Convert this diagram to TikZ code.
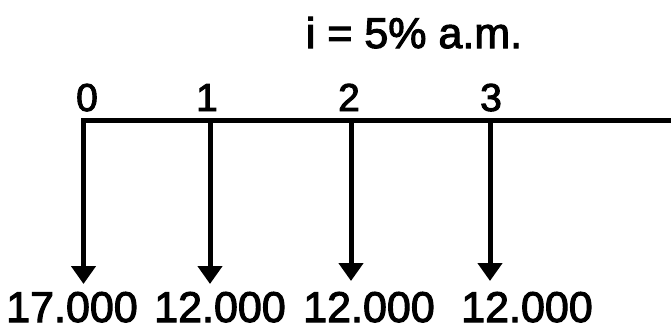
\documentclass[tikz,border=0pt]{standalone}
\usepackage{fontspec}
\setmainfont{Liberation Sans}[FakeBold=2.5]
\usetikzlibrary{arrows.meta}
\begin{document}
\begin{tikzpicture}[x=.5pt,y=-.5pt,>={Triangle[width=12pt,length=9pt]},
  font=\fontsize{19.5}{22}\selectfont,
  period/.style={anchor=base},
  amount/.style={anchor=base,inner sep=0pt,font=\fontsize{21.5}{24}\selectfont}]
  \useasboundingbox (0,0) rectangle (671,328);
  \node[period,font=\fontsize{21.5}{24}\selectfont] (rate) at (414,48) {i = 5\% a.m.};
  % time line with the points of payment
  \coordinate (t0) at (83.5,120);
  \coordinate (t1) at (210,120);
  \coordinate (t2) at (351,120);
  \coordinate (t3) at (490,120);
  \coordinate (stop) at (671,120);
  \draw[line width=2.5pt] ([xshift=-1.25pt]t0) -- (stop);
  \node[period] (p0) at (87,111) {0};
  \node[period] (p1) at (207,111) {1};
  \node[period] (p2) at (349,111) {2};
  \node[period] (p3) at (491,111) {3};
  % outgoing payments
  \coordinate (e0) at (83.5,284);
  \coordinate (e1) at (210,284);
  \coordinate (e2) at (351,281);
  \coordinate (e3) at (490,281);
  \foreach \k in {0,...,3}
    \draw[->,line width=2.5pt] (t\k) -- (e\k);
  \node[amount] (a0) at (72,322) {17.000};
  \node[amount] (a1) at (220,322) {12.000};
  \node[amount] (a2) at (369,322) {12.000};
  \node[amount] (a3) at (527,322) {12.000};
\end{tikzpicture}
\end{document}
